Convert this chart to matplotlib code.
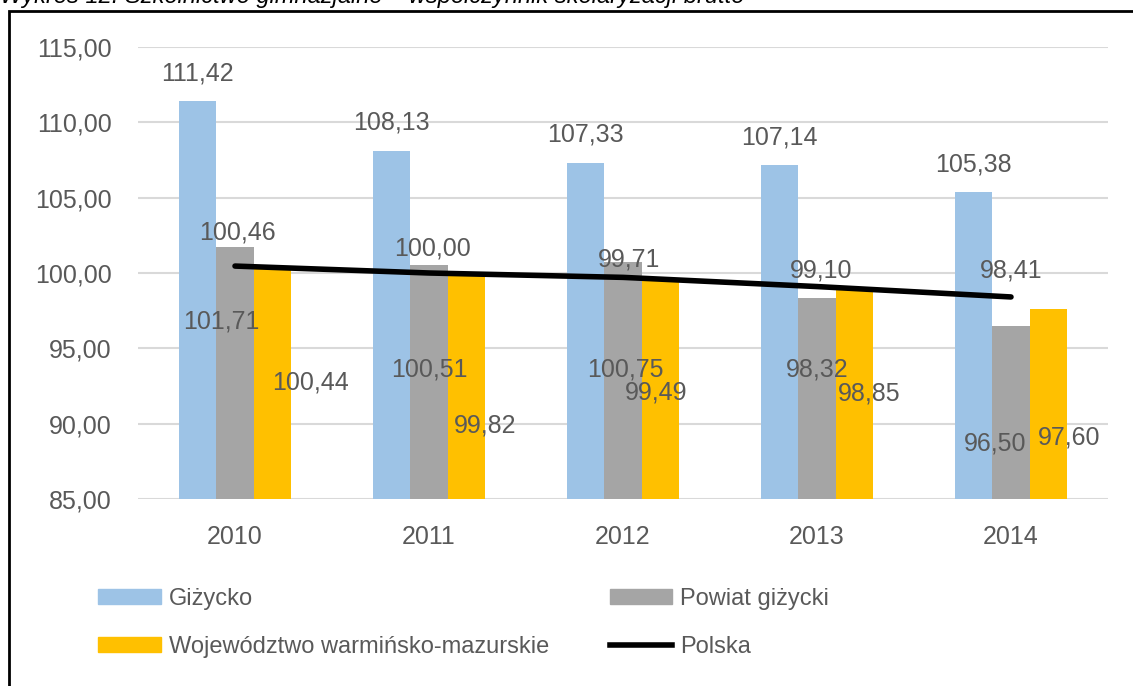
import matplotlib
matplotlib.use("Agg")
import matplotlib.pyplot as plt
import numpy as np
from matplotlib.patches import Rectangle
from matplotlib.lines import Line2D

years = ["2010", "2011", "2012", "2013", "2014"]
gizycko = [111.42, 108.13, 107.33, 107.14, 105.38]
powiat = [101.71, 100.51, 100.75, 98.32, 96.50]
wojew = [100.44, 99.82, 99.49, 98.85, 97.60]
polska = [100.46, 100.00, 99.71, 99.10, 98.41]
yticks = [85, 90, 95, 100, 105, 110, 115]

# manual label placements (style, in data coords)
powiat_lbl_pos = [(-0.07, 96.8), (1.0, 93.6), (2.01, 93.6), (3.0, 93.6), (3.92, 88.7)]
wojew_lbl_pos = [(0.39, 92.7), (1.29, 89.9), (2.17, 92.1), (3.27, 92.0), (4.30, 89.1)]
polska_lbl_pos = [(0.01, 102.7), (1.02, 101.6), (2.03, 100.9), (3.02, 100.15), (4.0, 100.15)]

plt.rcParams['font.family'] = ['Liberation Sans', 'DejaVu Sans']
txt = '#595959'

fig = plt.figure(figsize=(11.33, 6.86), dpi=100)
ax = fig.add_axes([138/1133, 1-499/686, 970/1133, 452/686])

x = np.arange(len(years))
w = 0.193
c_blue, c_grey, c_yel = '#9DC3E6', '#A5A5A5', '#FFC000'
ax.bar(x - w, [v - 85 for v in gizycko], w, bottom=85, color=c_blue, zorder=2)
ax.bar(x, [v - 85 for v in powiat], w, bottom=85, color=c_grey, zorder=2)
ax.bar(x + w, [v - 85 for v in wojew], w, bottom=85, color=c_yel, zorder=2)
ax.plot(x, polska, color='black', lw=4, solid_capstyle='round', zorder=3)

fmt = lambda v: f"{v:.2f}".replace('.', ',')
fs = 18
for i, v in enumerate(gizycko):
    ax.annotate(fmt(v), (x[i] - w, v), xytext=(0, 20), textcoords='offset points',
                ha='center', va='center', fontsize=fs, color=txt, zorder=5)
for (px, py), v in zip(powiat_lbl_pos, powiat):
    ax.text(px, py, fmt(v), ha='center', va='center', fontsize=fs, color=txt, zorder=5)
for (px, py), v in zip(wojew_lbl_pos, wojew):
    ax.text(px, py, fmt(v), ha='center', va='center', fontsize=fs, color=txt, zorder=5)
for (px, py), v in zip(polska_lbl_pos, polska):
    ax.text(px, py, fmt(v), ha='center', va='center', fontsize=fs, color=txt, zorder=5)

ax.set_xlim(-0.5, 4.5)
ax.set_ylim(85, 115)
ax.set_yticks(yticks)
ax.set_yticklabels([fmt(t) for t in yticks])
ax.set_xticks(x)
ax.set_xticklabels(years)
ax.tick_params(axis='both', length=0, labelsize=fs, labelcolor=txt)
ax.tick_params(axis='x', pad=19)
ax.tick_params(axis='y', pad=19)
for s in ax.spines.values():
    s.set_visible(False)
ax.yaxis.grid(True, color='#d9d9d9', lw=1.5, zorder=0)
ax.set_axisbelow(True)

handles = [Rectangle((0, 0), 1, 1, color=c_blue),
           Rectangle((0, 0), 1, 1, color=c_yel),
           Rectangle((0, 0), 1, 1, color=c_grey),
           Line2D([0], [0], color='black', lw=4)]
labels = ["Giżycko", "Województwo warmińsko-mazurskie", "Powiat giżycki", "Polska"]
leg = fig.legend(handles, labels, ncol=2, loc='upper left',
                 bbox_to_anchor=(77/1133, 1-567/686), frameon=False,
                 fontsize=17, labelcolor=txt, handlelength=2.65, handleheight=0.6,
                 handletextpad=0.35, columnspacing=2.55, labelspacing=1.1)

# outer frame
fig.patches.append(Rectangle((9/1133, -0.05), 1.2, 1 - 11/686 + 0.05,
                             transform=fig.transFigure, fill=False,
                             edgecolor='black', lw=2, zorder=10))
fig.text(0.0, 1.0 + 4/686, "Wykres 12. Szkolnictwo gimnazjalne – współczynnik skolaryzacji brutto",
         fontsize=17, style='italic', ha='left', va='center', color='black')

fig.savefig("out.png", dpi=100)
